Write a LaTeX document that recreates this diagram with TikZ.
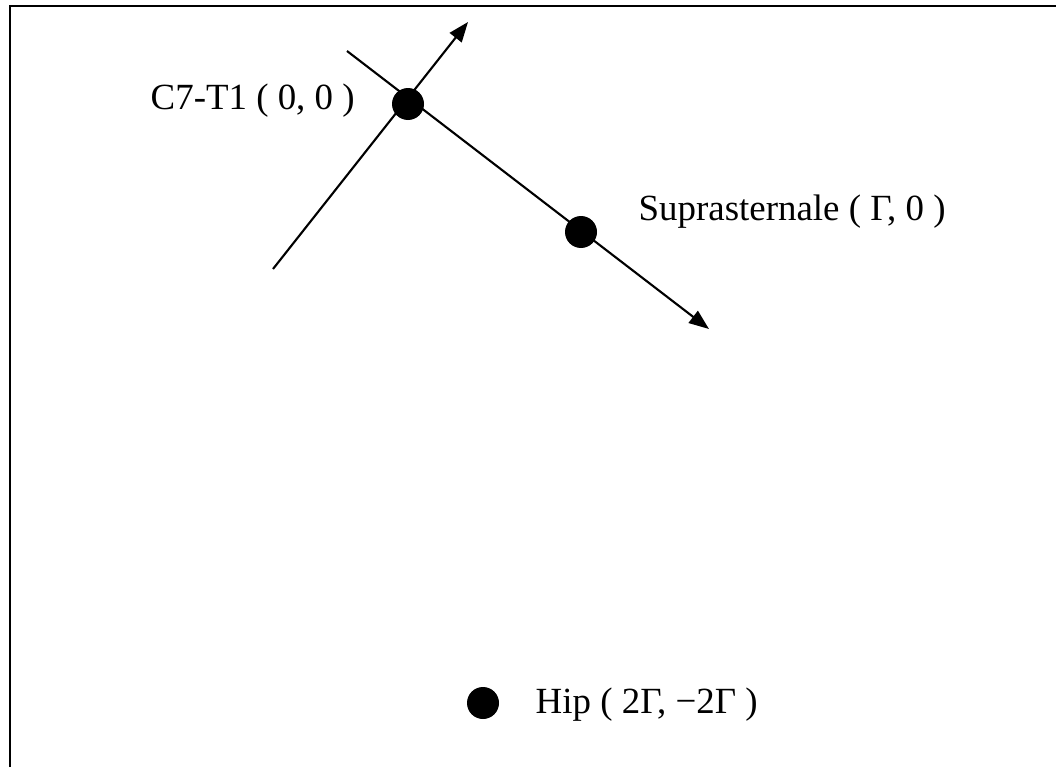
\documentclass[tikz,border=0pt]{standalone}
\usepackage{fontspec}
\setmainfont{Liberation Serif}
\usetikzlibrary{arrows.meta}

\tikzset{
  dot/.style={circle, fill=black, inner sep=0pt, minimum size=3.2mm},
  axis/.style={line width=0.6pt, -{Triangle[length=2mm, width=1.5mm]}},
  lbl/.style={anchor=base west, inner sep=0pt}
}

\begin{document}
\begin{tikzpicture}[font=\fontsize{10.5}{12}\selectfont]
  \useasboundingbox (0,0) rectangle (10.56,7.67);
  \draw[line width=0.8pt] (0.10,0) -- (0.10,7.61) -- (10.56,7.61);

  \coordinate (u0) at (3.47,7.16);
  \coordinate (u1) at (7.09,4.38);
  \coordinate (v0) at (2.73,4.98);
  \coordinate (v1) at (4.68,7.45);
  \draw[axis] (u0) -- (u1);
  \draw[axis] (v0) -- (v1);

  \node[dot] (c7) at (4.08,6.63) {};
  \node[dot] (supra) at (5.81,5.35) {};
  \node[dot] (hip) at (4.83,0.64) {};

  \node[lbl] (c7lbl) at (1.50,6.57) {C7-T1 ( 0, 0 )};
  \node[lbl] (supralbl) at (6.38,5.47) {Suprasternale ( Γ, 0 )};
  \node[lbl] (hiplbl) at (5.35,0.54) {Hip ( 2Γ, −2Γ )};
\end{tikzpicture}
\end{document}
